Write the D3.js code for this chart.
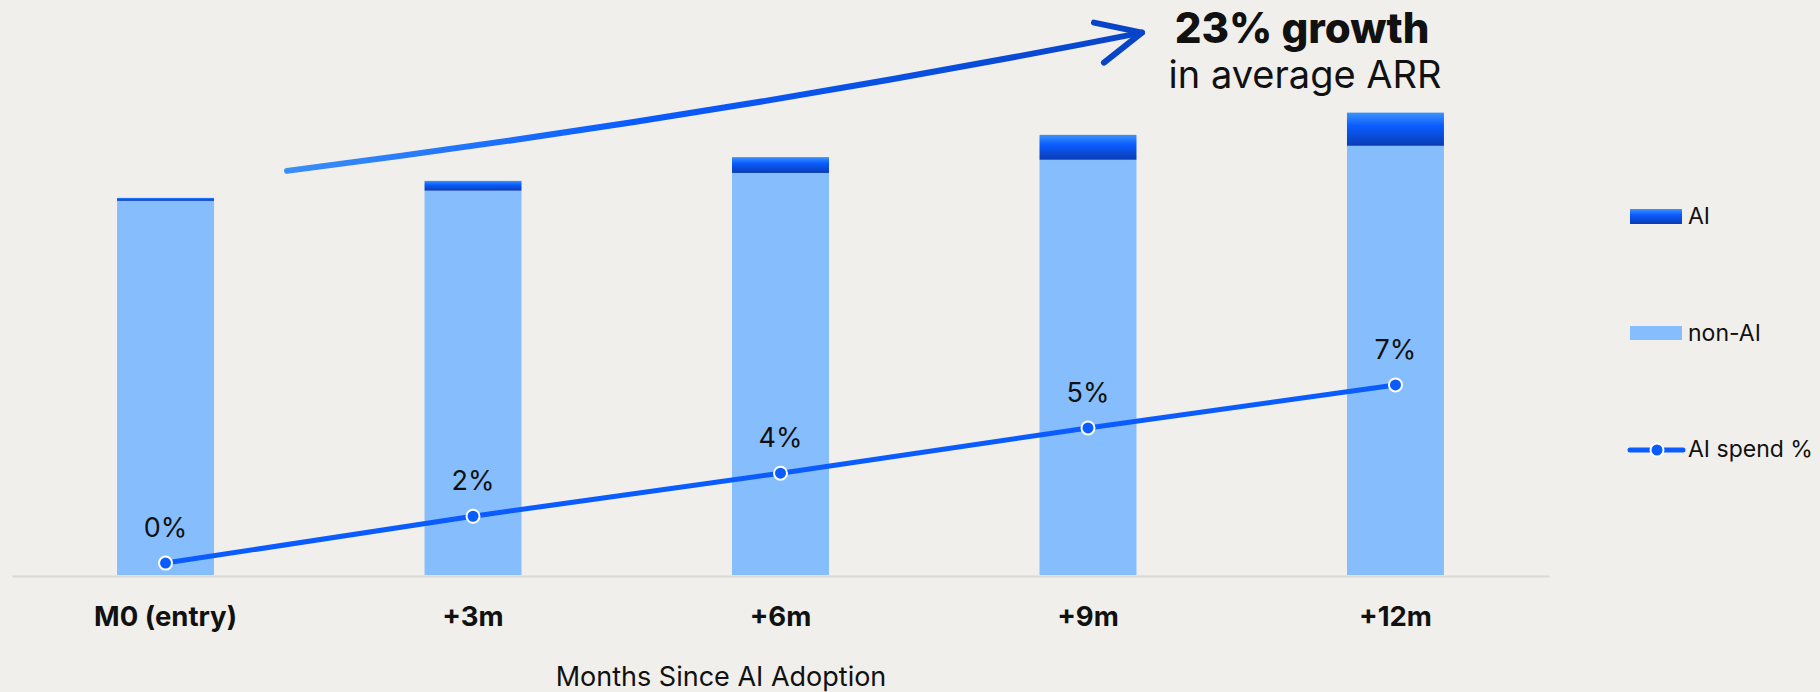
<!DOCTYPE html>
<html>
<head>
<meta charset="utf-8">
<script src="https://cdn.jsdelivr.net/npm/d3@7/dist/d3.min.js"></script>
<style>
  html, body { margin: 0; padding: 0; background: #F0EFEB; }
  svg { display: block; }
  text { font-family: Inter, "Noto Sans", sans-serif; fill: #111; }
</style>
</head>
<body>
<svg id="chart" width="1820" height="692"></svg>
<script>
// Average ARR indexed to entry month (M0 = 100), split by AI / non-AI revenue
const categories = ["M0 (entry)", "+3m", "+6m", "+9m", "+12m"];
const nonAI = [99.2, 101.9, 106.6, 110.1, 113.8];
const ai = [0.8, 2.6, 4.2, 6.6, 8.8];
// Share of spend going to AI products
const aiSpend = [0.0044, 0.0217, 0.0376, 0.0543, 0.0702];
const seriesNames = ["non-AI", "AI"];
const legendLabels = ["AI", "non-AI", "AI spend %"];
const axisTitle = "Months Since AI Adoption";
const headline = "23% growth";
const subline = "in average ARR";

const W = 1820, H = 692;
const baseY = 575, topY = 47, leftX = 12, rightX = 1549;

const svg = d3.select("#chart");
svg.append("rect").attr("width", W).attr("height", H).attr("fill", "#F0EFEB");

const defs = svg.append("defs");
const aiGrad = defs.append("linearGradient").attr("id", "aiGrad")
  .attr("x1", 0).attr("y1", 0).attr("x2", 0).attr("y2", 1);
aiGrad.append("stop").attr("offset", "0%").attr("stop-color", "#3C93FA");
aiGrad.append("stop").attr("offset", "40%").attr("stop-color", "#0A5CFF");
aiGrad.append("stop").attr("offset", "100%").attr("stop-color", "#0A3CB4");

const rows = categories.map((c, i) => ({ cat: c, "non-AI": nonAI[i], "AI": ai[i] }));
const stacked = d3.stack().keys(seriesNames)(rows);

const x = d3.scaleBand().domain(categories).range([leftX, rightX])
  .paddingInner(0.6846).paddingOuter(0.3416);
const y = d3.scaleLinear().domain([0, 140]).range([baseY, topY]);
const y2 = d3.scaleLinear().domain([0, 0.195]).range([baseY, topY]);

const fills = { "non-AI": "#86BEFD", "AI": "url(#aiGrad)" };

// Stacked bars
svg.append("g").selectAll("g").data(stacked).join("g")
  .attr("fill", d => fills[d.key])
  .selectAll("rect").data(d => d).join("rect")
  .attr("x", d => x(d.data.cat))
  .attr("width", x.bandwidth())
  .attr("y", d => y(d[1]))
  .attr("height", d => y(d[0]) - y(d[1]));

// Baseline axis
const xAxis = d3.axisBottom(x).tickSize(0).tickPadding(30);
const gx = svg.append("g").attr("transform", `translate(0,${baseY + 1})`).call(xAxis);
gx.select(".domain").attr("stroke", "#D9D8D4").attr("stroke-width", 2);
gx.selectAll("text")
  .attr("font-family", "Inter, 'Noto Sans', sans-serif")
  .attr("font-size", 27.5).attr("font-weight", 700).attr("fill", "#111");

svg.append("text").attr("x", 721).attr("y", 686)
  .attr("text-anchor", "middle").attr("font-size", 27).text(axisTitle);

// AI spend line
const cx = c => x(c) + x.bandwidth() / 2;
const line = d3.line().x((d, i) => cx(categories[i])).y(d => y2(d));
svg.append("path").datum(aiSpend).attr("d", line)
  .attr("fill", "none").attr("stroke", "#0A5CFF").attr("stroke-width", 5);
svg.append("g").selectAll("circle").data(aiSpend).join("circle")
  .attr("cx", (d, i) => cx(categories[i])).attr("cy", d => y2(d)).attr("r", 6.5)
  .attr("fill", "#0A5CFF").attr("stroke", "#fff").attr("stroke-width", 2);
const fmt = d3.format(".0%");
svg.append("g").selectAll("text").data(aiSpend).join("text")
  .attr("x", (d, i) => cx(categories[i])).attr("y", d => y2(d) - 26)
  .attr("text-anchor", "middle").attr("font-size", 27).text(d => fmt(d));

// Growth annotation arrow
const last = categories.length - 1;
const x0 = x(categories[0]) + x.bandwidth() + 73;
const yA0 = y(nonAI[0] + ai[0]) - 27;
const x1 = x(categories[last]) - 205;
const yA1 = y(nonAI[last] + ai[last]) - 80;
const arrowGrad = defs.append("linearGradient").attr("id", "arrowGrad")
  .attr("gradientUnits", "userSpaceOnUse")
  .attr("x1", x0).attr("y1", yA0).attr("x2", x1).attr("y2", yA1);
arrowGrad.append("stop").attr("offset", "0%").attr("stop-color", "#3A8EF6");
arrowGrad.append("stop").attr("offset", "40%").attr("stop-color", "#0A5CFF");
arrowGrad.append("stop").attr("offset", "100%").attr("stop-color", "#0844C8");
const ctrlX = (x0 + x1) / 2, ctrlY = (yA0 + yA1) / 2 + 15;
const arrowPath = d3.path();
arrowPath.moveTo(x0, yA0);
arrowPath.quadraticCurveTo(ctrlX, ctrlY, x1, yA1);
svg.append("path").attr("d", arrowPath.toString())
  .attr("fill", "none").attr("stroke", "url(#arrowGrad)")
  .attr("stroke-width", 6).attr("stroke-linecap", "round");
const head = d3.path();
head.moveTo(x1 - 48, yA1 - 10);
head.lineTo(x1, yA1);
head.lineTo(x1 - 38, yA1 + 30);
svg.append("path").attr("d", head.toString())
  .attr("fill", "none").attr("stroke", "#0844C8").attr("stroke-width", 6)
  .attr("stroke-linecap", "round").attr("stroke-linejoin", "round");

svg.append("text").attr("x", 1302).attr("y", 43).attr("text-anchor", "middle")
  .attr("font-size", 42).attr("font-weight", 800).text(headline);
svg.append("text").attr("x", 1305).attr("y", 88).attr("text-anchor", "middle")
  .attr("font-size", 38).attr("font-weight", 400).text(subline);

// Legend
const lg = svg.append("g");
lg.append("rect").attr("x", 1630).attr("y", 209).attr("width", 52).attr("height", 15)
  .attr("fill", "url(#aiGrad)");
lg.append("rect").attr("x", 1630).attr("y", 326).attr("width", 52).attr("height", 14)
  .attr("fill", fills["non-AI"]);
lg.append("line").attr("x1", 1630).attr("x2", 1683).attr("y1", 450).attr("y2", 450)
  .attr("stroke", "#0A5CFF").attr("stroke-width", 5).attr("stroke-linecap", "round");
lg.append("circle").attr("cx", 1657).attr("cy", 450).attr("r", 6.5)
  .attr("fill", "#0A5CFF").attr("stroke", "#fff").attr("stroke-width", 2);
lg.selectAll("text").data(legendLabels).join("text")
  .attr("x", 1688).attr("y", (d, i) => [224, 341, 457][i])
  .attr("font-size", 23).text(d => d);
</script>
</body>
</html>
